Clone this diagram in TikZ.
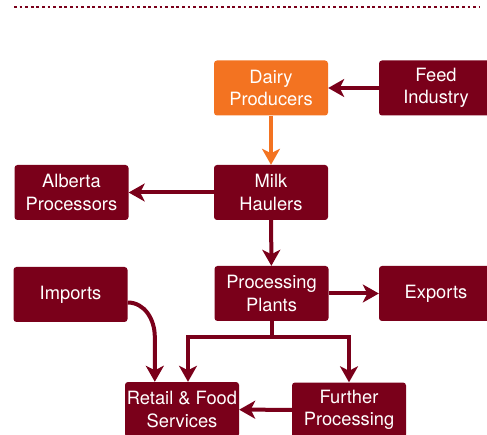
\documentclass[tikz,border=0pt]{standalone}
\usepackage{fontspec}
\setmainfont{TeX Gyre Heros}
\usepackage{tikz}
\usetikzlibrary{arrows.meta,positioning,calc}
\definecolor{milkred}{RGB}{122,0,26}
\definecolor{milkorange}{RGB}{243,115,33}
\tikzset{
  stage/.style={fill=milkred,text=white,rounded corners=3pt,align=center,
    minimum width=114pt,minimum height=55pt,inner sep=0pt,
    font=\fontsize{18.3}{22.5}\selectfont},
  flow/.style={draw=milkred,line width=4pt,
    -{Stealth[length=16pt,width=18pt,inset=4.5pt]}}
}
\begin{document}
\begin{tikzpicture}[x=1pt,y=-1pt]
  \useasboundingbox (0,0) rectangle (487,435);
  \draw[milkred,line width=2.8pt,dash pattern=on 2.8pt off 2.8pt] (14,7) -- (480,7);

  \node[stage,fill=milkorange] (dairy) at (271,88) {Dairy\\Producers};
  \node[stage] (feed) at (436,88) {Feed\\Industry};
  \node[stage] (haulers) at (271,192.5) {Milk\\Haulers};
  \node[stage] (alberta) at (71.5,192.5) {Alberta\\Processors};
  \node[stage] (plants) at (271.5,293.5) {Processing\\Plants};
  \node[stage] (exports) at (436,293.5) {Exports};
  \node[stage] (imports) at (70.5,294.5) {Imports};
  \node[stage] (retail) at (182,409.5) {Retail \& Food\\Services};
  \node[stage] (further) at (349,410) {Further\\Processing};

  \draw[flow] (feed) -- (dairy);
  \draw[flow,draw=milkorange] (dairy) -- (haulers);
  \draw[flow] (haulers) -- (alberta);
  \draw[flow] (haulers) -- (plants);
  \draw[flow] (plants) -- (exports);
  \draw[flow] (plants.south) -- ++(0,16) -| ([xshift=6pt]retail.north);
  \draw[flow] (plants.south) -- ++(0,16) -| (further.north);
  \draw[flow] ([yshift=-8pt]imports.east) to[out=0,in=90] ($(retail.north west)+(30,-45)$) -- ($(retail.north west)+(30,0)$);
  \draw[flow] (further) -- (retail);
\end{tikzpicture}
\end{document}
